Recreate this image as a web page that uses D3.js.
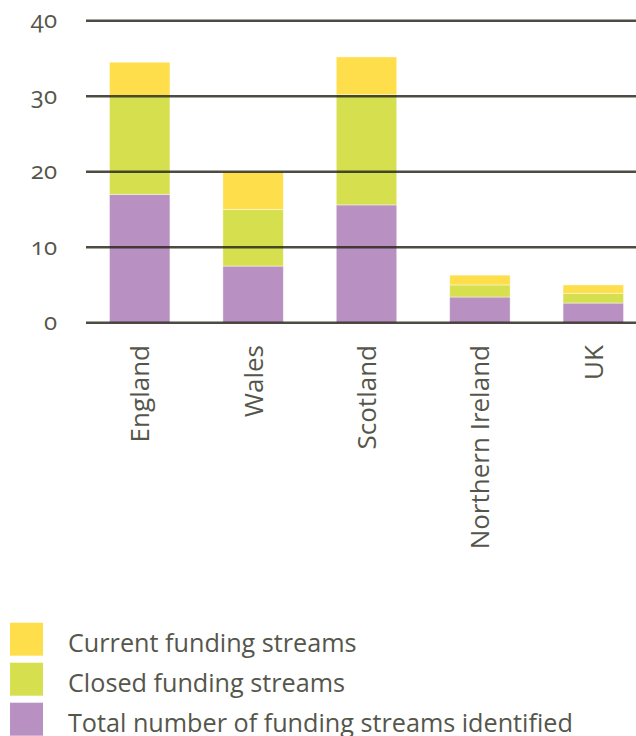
<!DOCTYPE html>
<html><head><meta charset="utf-8">
<script src="https://cdn.jsdelivr.net/npm/d3@7"></script>
<style>
html,body{margin:0;padding:0;background:#fff;}
text{font-family:"Open Sans",sans-serif;fill:#55564b;font-feature-settings:"onum";}
</style></head>
<body><svg id="c" width="636" height="736"></svg>
<script>
const categories = ["England","Wales","Scotland","Northern Ireland","UK"];
const totalIdentified = [17, 7.5, 15.6, 3.4, 2.6];
const closedStreams = [13, 7.5, 14.6, 1.6, 1.3];
const currentStreams = [4.5, 5, 5, 1.3, 1.1];
const yTicks = [0, 10, 20, 30, 40];
const seriesNames = ["Current funding streams","Closed funding streams","Total number of funding streams identified"];
const seriesColors = ["#FFDE4C","#D6E04F","#B891C2"];

const svg = d3.select("#c");
const x = d3.scaleBand().domain(categories).range([83, 650]).paddingInner(0.467).paddingOuter(0.2335);
const y = d3.scaleLinear().domain([0, 40]).range([322.7, 20.7]);

const rows = categories.map((c,i)=>({cat:c, total:totalIdentified[i], closed:closedStreams[i], current:currentStreams[i]}));
const stack = d3.stack().keys(["total","closed","current"]);
const layers = stack(rows);
const colorByKey = {total:seriesColors[2], closed:seriesColors[1], current:seriesColors[0]};

svg.append("g").selectAll("g").data(layers).join("g")
  .attr("fill", d=>colorByKey[d.key])
  .selectAll("rect").data(d=>d).join("rect")
  .attr("x", d=>x(d.data.cat))
  .attr("width", x.bandwidth())
  .attr("y", d=>y(d[1]))
  .attr("height", d=>y(d[0])-y(d[1]))
  .attr("stroke","#fff").attr("stroke-opacity",0.5).attr("stroke-width",0.8);

// gridlines on top
const grid = svg.append("g");
grid.selectAll("line").data(yTicks).join("line")
  .attr("x1",86).attr("x2",636)
  .attr("y1",d=>y(d)).attr("y2",d=>y(d))
  .attr("stroke","rgb(40,40,28)").attr("stroke-opacity",0.83).attr("stroke-width",2.6);

// y labels
svg.append("g").selectAll("text").data(yTicks).join("text")
  .attr("x",57).attr("y",d=>y(d)+7.5)
  .attr("text-anchor","end").attr("font-size",24)
  .text(d=>d);

// x labels rotated
svg.append("g").selectAll("text").data(categories).join("text")
  .attr("transform",d=>`translate(${x(d)+x.bandwidth()/2+9.5},345) rotate(-90)`)
  .attr("text-anchor","end").attr("font-size",26)
  .text(d=>d);

// legend
const lg = svg.append("g");
seriesNames.forEach((n,i)=>{
  lg.append("rect").attr("x",10).attr("y",622.7+i*40).attr("width",33).attr("height",33).attr("fill",seriesColors[i]);
  lg.append("text").attr("x",68).attr("y",651.5+i*40).attr("font-size",25.2).text(n);
});
</script></body></html>
